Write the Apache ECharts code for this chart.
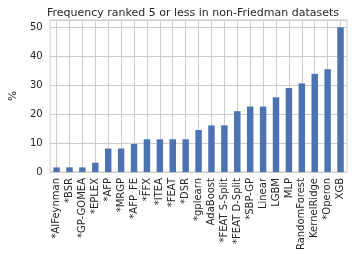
<!DOCTYPE html>
<html><head><meta charset="utf-8">
<script src="https://cdn.jsdelivr.net/npm/echarts@6/dist/echarts.min.js"></script>
<style>html,body{margin:0;padding:0;background:#fff}#c{width:352px;height:255px}</style>
</head><body><div id="c"></div>
<script>
const categories = ["*AIFeynman","*BSR","*GP-GOMEA","*EPLEX","*AFP","*MRGP","*AFP_FE","*FFX","*ITEA","*FEAT","*DSR","*gplearn","AdaBoost","*FEAT S-Split","*FEAT D-Split","*SBP-GP","Linear","LGBM","MLP","RandomForest","KernelRidge","*Operon","XGB"];
const values = [1.6,1.6,1.6,3.2,8.1,8.1,9.7,11.3,11.3,11.3,11.3,14.5,16.1,16.1,21.0,22.6,22.6,25.8,29.0,30.6,33.9,35.5,50.0];
const titleText = "Frequency ranked 5 or less in non-Friedman datasets";
const yName = "%";
const textColor = "#262626";
const gridColor = "#cccccc";
const chart = echarts.init(document.getElementById('c'), null, {renderer:'canvas'});
chart.setOption({
  animation:false,
  backgroundColor:'#fff',
  title:{text:titleText,left:188,textAlign:'center',top:3,textStyle:{fontFamily:'DejaVu Sans',fontSize:11,fontWeight:'normal',color:textColor}},
  grid:{left:41,right:5,top:20,bottom:83,show:true,borderColor:gridColor,borderWidth:1},
  xAxis:{type:'category',data:categories,boundaryGap:true,
    axisLine:{show:false},axisTick:{show:false},
    splitLine:{show:true,alignWithLabel:true,lineStyle:{color:gridColor,width:1}},
    axisLabel:{rotate:90,interval:0,margin:6,fontFamily:'DejaVu Sans',fontSize:10,color:textColor}},
  yAxis:{type:'value',min:0,max:52.5,interval:10,name:yName,nameLocation:'middle',nameGap:27,nameRotate:90,
    nameTextStyle:{fontFamily:'DejaVu Sans',fontSize:10.5,color:textColor},
    axisLine:{show:false},axisTick:{show:false},
    splitLine:{show:true,lineStyle:{color:gridColor,width:1}},
    axisLabel:{margin:7.5,fontFamily:'DejaVu Sans',fontSize:10,color:textColor,showMaxLabel:false}},
  series:[{type:'bar',data:values,barWidth:'50%',itemStyle:{color:'#4c72b0'}}]
});
</script></body></html>
